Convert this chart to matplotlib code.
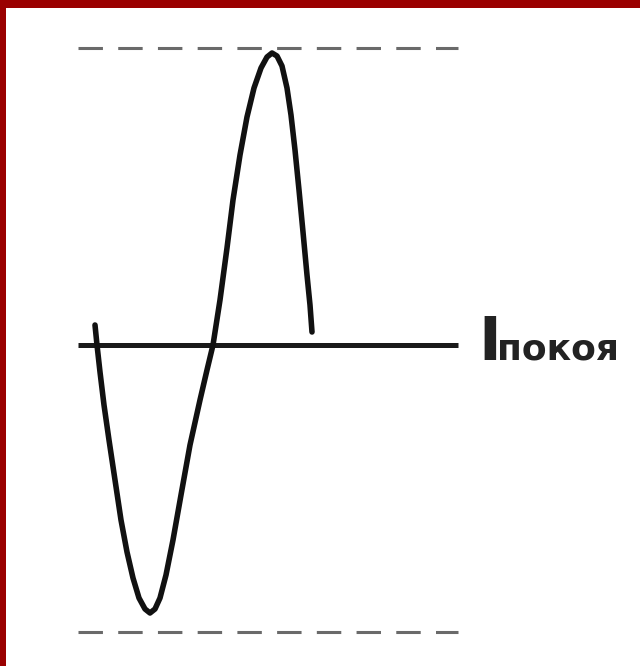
import matplotlib
matplotlib.use("Agg")
import matplotlib.pyplot as plt
from matplotlib.patches import Rectangle

# Waveform: time (arb. units) and current relative to I_rest
t_wave = [0.00, 0.02, 0.05, 0.09, 0.14, 0.20, 0.26, 0.32, 0.38, 0.44, 0.50, 0.55,
          0.60, 0.65, 0.71, 0.78, 0.86, 0.95, 1.05, 1.12, 1.18, 1.25, 1.32, 1.38,
          1.45, 1.52, 1.59, 1.66, 1.72, 1.77, 1.82, 1.87, 1.92, 1.96, 2.00, 2.04,
          2.08, 2.12, 2.15, 2.17]
i_wave = [0.20, 0.00, -0.27, -0.60, -0.95, -1.35, -1.75, -2.07, -2.33, -2.53, -2.64, -2.68,
          -2.64, -2.53, -2.30, -1.95, -1.50, -1.00, -0.55, -0.25, 0.00, 0.45, 0.97, 1.45,
          1.90, 2.28, 2.57, 2.77, 2.88, 2.92, 2.89, 2.79, 2.57, 2.30, 1.95, 1.55,
          1.13, 0.70, 0.40, 0.13]

# Reference levels
t_span = [-0.17, 3.63]
i_rest = 0.0
i_max_level = 2.97
i_min_level = -2.87

label_main = "I"
label_sub = "покоя"

fig = plt.figure(figsize=(6.4, 6.66), dpi=100)
fig.patch.set_facecolor("white")
ax = fig.add_axes([0, 0, 1, 1])
ax.set_xlim(-0.95, 5.45)
ax.set_ylim(-3.21, 3.45)
ax.axis("off")

red = "#9a0000"
fig.patches.append(Rectangle((0, 1 - 8 / 666), 1, 8 / 666, transform=fig.transFigure,
                             facecolor=red, edgecolor="none", zorder=10))
fig.patches.append(Rectangle((0, 0), 6 / 640, 1, transform=fig.transFigure,
                             facecolor=red, edgecolor="none", zorder=10))

# dashed extreme levels
for lvl in (i_max_level, i_min_level):
    ax.plot(t_span, [lvl, lvl], color="#6a6a6a", lw=2.2, dashes=(8, 5),
            solid_capstyle="butt", dash_capstyle="butt")

# rest current line
ax.plot(t_span, [i_rest, i_rest], color="#1a1a1a", lw=3.6, solid_capstyle="butt")

# waveform
ax.plot(t_wave, i_wave, color="#111111", lw=4.0, solid_joinstyle="round",
        solid_capstyle="round")

# label
ax.text(3.83, i_rest - 0.15, label_main, fontsize=44, fontweight="bold",
        family="DejaVu Sans", color="#222222", va="baseline", ha="left")
ax.text(4.02, i_rest - 0.15, label_sub, fontsize=26, fontweight="bold",
        family="DejaVu Sans", color="#222222", va="baseline", ha="left")

fig.savefig("out.png", dpi=100)
